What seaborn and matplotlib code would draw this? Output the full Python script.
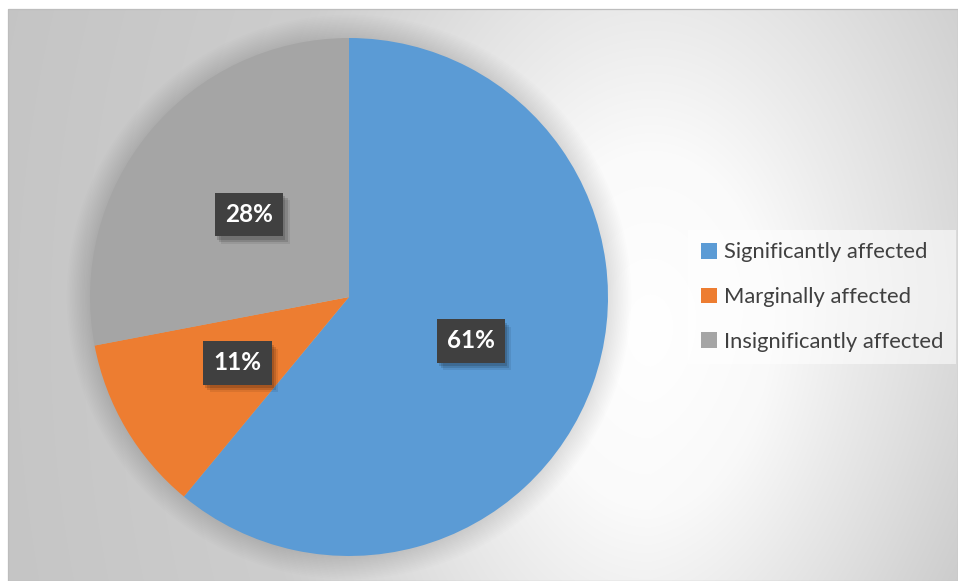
import numpy as np
import matplotlib
matplotlib.use("Agg")
import matplotlib.pyplot as plt
import matplotlib.patheffects as pe
from matplotlib.patches import Rectangle, Circle
import seaborn as sns

# Survey shares by impact level
categories = ["Significantly affected", "Marginally affected", "Insignificantly affected"]
shares = [61, 11, 28]
colors = ["#5B9BD5", "#ED7D31", "#A5A5A5"]

sns.set_theme(style="white")
plt.rcParams["font.family"] = ["Lato", "DejaVu Sans"]

W, H = 958, 581
fig = plt.figure(figsize=(W / 100, H / 100), dpi=100)
fig.patch.set_facecolor("white")

# Chart area with a soft elliptical background gradient
x0, y0 = 8, 9  # left / top offset of the chart frame in pixels
bg = fig.add_axes([x0 / W, 0, (W - x0) / W, (H - y0) / H])
gx, gy = np.meshgrid(np.arange(x0, W), np.arange(y0, H))
d = np.hypot(gx - 650, (gy - 330) / 1.5)
shade = np.interp(d, [0, 120, 200, 300, 400, 700], [255, 250, 236, 220, 205, 196])
shade -= 8 * np.clip((gx - 650) / 300, 0, 1) * np.clip((gy - 300) / 280, 0, 1)
shade = shade / 255
bg.imshow(np.dstack([shade] * 3), aspect="auto", interpolation="bilinear")
bg.set_axis_off()
fig.add_artist(Rectangle((x0 / W, 0), (W - x0) / W, (H - y0) / H,
                         transform=fig.transFigure, fill=False,
                         edgecolor="#bdbdbd", linewidth=0.9))

# Pie
cx, cy, r = 349, 297, 259
ax = fig.add_axes([(cx - r) / W, (H - cy - r) / H, 2 * r / W, 2 * r / H])
ax.patch.set_alpha(0)

# soft halo around the pie
n_rings = 14
for k in range(n_rings):
    ax.add_patch(Circle((0, 0), 1 + 0.09 * (k + 1) / n_rings, facecolor="black",
                        edgecolor="none", alpha=0.008, zorder=0, clip_on=False))

pal = sns.color_palette(colors)
wedges, _, autotexts = ax.pie(shares, colors=pal, startangle=90, counterclock=False,
                              autopct="%.0f%%", pctdistance=0.5,
                              wedgeprops=dict(linewidth=0, zorder=2))
ax.set_xlim(-1, 1)
ax.set_ylim(-1, 1)
ax.set_axis_off()

for t in autotexts:
    t.set_color("white")
    t.set_fontweight("bold")
    t.set_fontsize(17.5)
    t.set_zorder(5)
    t.set_bbox(dict(boxstyle="square,pad=0.42", facecolor="#404040", edgecolor="none"))
    t.get_bbox_patch().set_path_effects([
        pe.SimplePatchShadow(offset=(1.5, -2.5), shadow_rgbFace="black", alpha=0.14),
        pe.SimplePatchShadow(offset=(3, -4), shadow_rgbFace="black", alpha=0.12),
        pe.SimplePatchShadow(offset=(4.5, -5.5), shadow_rgbFace="black", alpha=0.08),
        pe.Normal(),
    ])

leg = fig.legend(wedges, categories, loc="center left",
                 bbox_to_anchor=(688 / W, (H - 297) / H),
                 frameon=True, fancybox=False, facecolor="white", framealpha=0.55,
                 edgecolor="none", fontsize=15.8, labelcolor="#404040",
                 handlelength=0.72, handleheight=0.72, handletextpad=0.33,
                 labelspacing=1.12, borderpad=0.58, borderaxespad=0)

fig.savefig("out.png", dpi=100, facecolor="white")
